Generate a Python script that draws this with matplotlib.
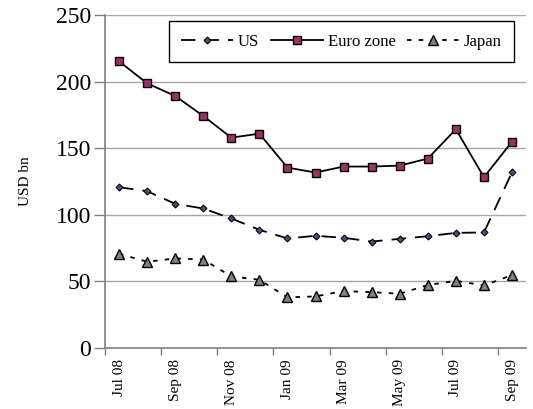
import matplotlib
matplotlib.use("Agg")
import matplotlib.pyplot as plt
import numpy as np

plt.rcParams['font.family'] = ['Liberation Serif', 'DejaVu Serif']

months = ["Jul 08", "Aug 08", "Sep 08", "Oct 08", "Nov 08", "Dec 08", "Jan 09", "Feb 09",
          "Mar 09", "Apr 09", "May 09", "Jun 09", "Jul 09", "Aug 09", "Sep 09"]
us = [120.8, 117.8, 108.3, 104.8, 97.3, 88.8, 82.3, 84.3, 82.8, 80.0, 82.0, 84.0, 86.5, 86.8, 132.0]
euro = [215.3, 198.8, 189.3, 174.3, 158.0, 161.0, 135.5, 131.8, 136.3, 136.3, 137.0, 142.3, 164.3, 128.3, 155.0]
japan = [70.8, 64.8, 67.3, 66.5, 53.8, 51.3, 38.0, 38.8, 42.8, 42.0, 40.8, 47.3, 50.5, 47.0, 54.8]

x = np.arange(len(months))

fig = plt.figure(figsize=(5.33, 4.09), dpi=100)
ax = fig.add_axes([0.197, 0.149, 0.79, 0.814])

ax.plot(x, us, color='black', lw=1.3, dashes=(8, 5), marker='D', markersize=3.5,
        markerfacecolor='#4d4d8c', markeredgecolor='black', markeredgewidth=0.8, label='US', zorder=3)
ax.plot(x, euro, color='black', lw=1.3, marker='s', markersize=5.5,
        markerfacecolor='#993366', markeredgecolor='black', markeredgewidth=1.0, label='Euro zone', zorder=3)
ax.plot(x, japan, color='black', lw=1.3, dashes=(2.5, 4), marker='^', markersize=6.5,
        markerfacecolor='#808080', markeredgecolor='black', markeredgewidth=1.0, label='Japan', zorder=3)

ax.set_xlim(-0.5, 14.5)
ax.set_ylim(0, 250)
ax.set_yticks([0, 50, 100, 150, 200, 250])
ax.tick_params(axis='y', labelsize=17, length=8, color='#808080', width=1, pad=2)

ax.set_xticks(np.arange(-0.5, 15, 2))
ax.set_xticklabels([])
ax.set_xticks(x[::2], minor=True)
ax.set_xticklabels(months[::2], minor=True, rotation=90, fontsize=11)
ax.tick_params(axis='x', which='major', length=5, color='#808080', width=1)
ax.tick_params(axis='x', which='minor', length=0, pad=8)

ax.yaxis.grid(True, color='#a6a6a6', lw=1)
ax.set_axisbelow(True)
for s in ['top', 'right']:
    ax.spines[s].set_visible(False)
for s in ['left', 'bottom']:
    ax.spines[s].set_color('#808080')
    ax.spines[s].set_linewidth(1.2)

ax.set_ylabel('USD bn', fontsize=11, labelpad=17)

leg = ax.legend(loc='upper right', bbox_to_anchor=(0.972, 0.982), ncol=3, fontsize=12,
                handlelength=3.1, columnspacing=0.7, handletextpad=0.3, fancybox=False,
                framealpha=1, edgecolor='black', borderpad=0.75, borderaxespad=0)
leg.get_frame().set_linewidth(1.0)

fig.savefig("out.png", dpi=100)
